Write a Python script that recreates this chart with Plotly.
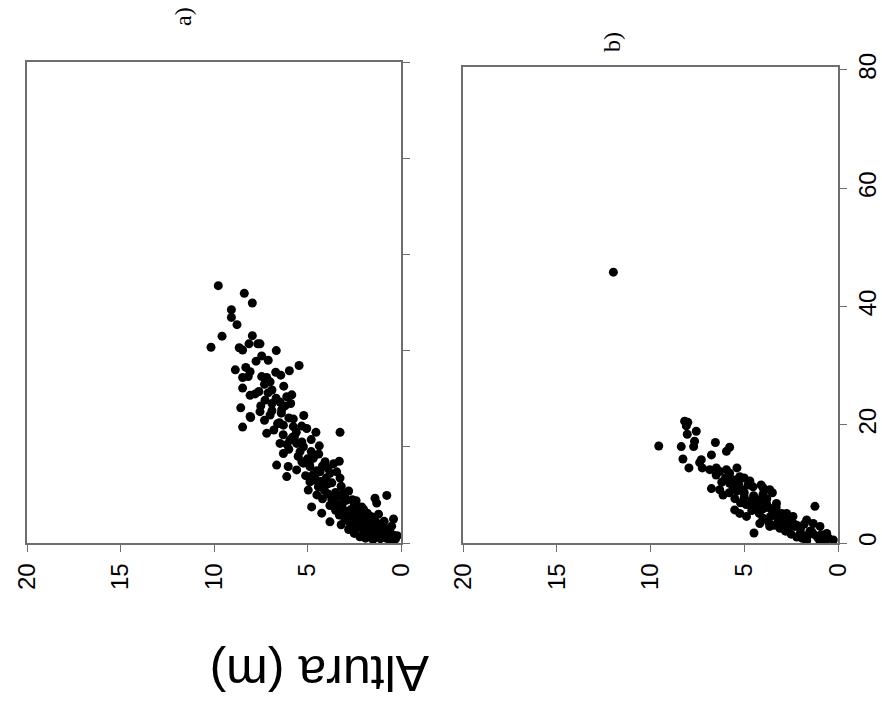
import plotly.graph_objects as go

# Panel a: (Altura, Y)
a_altura = [9.77, 8.38, 7.95, 9.07, 9.07, 8.77, 9.57, 10.16, 7.95, 8.65, 8.47, 8.13, 7.66, 7.54, 6.67,
            7.45, 7.10, 7.75, 5.45, 8.86, 8.07, 8.47, 8.17, 7.45, 7.18, 5.97, 6.43, 8.47, 6.27, 8.07,
            5.84, 6.11, 6.90, 6.68, 7.11, 6.47, 7.27, 8.57, 8.07, 7.54, 7.00, 6.38, 5.76, 8.47, 8.04,
            7.18, 6.29, 5.76, 5.31, 5.04, 4.55, 3.26, 6.47, 5.94, 5.58, 5.22, 4.37, 6.29, 6.65, 6.03,
            6.11, 5.58, 5.22, 4.87, 4.69, 4.06, 4.33, 4.87, 4.69, 4.42, 3.80, 3.44, 3.26, 4.96, 4.78,
            4.24, 3.80, 3.09, 2.90, 2.37, 2.10, 2.28, 0.76, 1.39, 1.30,
            3.5, 3.2, 3.0, 2.8, 2.6, 2.5, 2.4, 2.2, 2.0, 1.9, 1.8, 1.7, 1.6, 1.5, 1.4, 1.3, 1.2, 1.1,
            1.0, 0.9, 0.8, 0.7, 0.6, 0.5, 0.4, 0.3, 0.8, 1.0, 1.3, 1.6, 1.8, 2.1, 2.3, 2.6, 2.9, 3.1,
            3.4, 3.7, 3.9, 4.1, 4.3, 4.5, 4.2, 3.8, 3.5, 3.3, 3.0, 2.7, 2.4, 2.0, 1.7, 1.4, 1.1, 0.6,
            2.2, 2.5, 2.8, 3.2, 1.9, 1.5, 0.5, 0.2, 0.9, 1.2, 0.4,
            5.5, 5.0, 4.8, 5.3, 5.8, 6.0, 4.5, 4.0, 3.7, 4.2, 5.1, 3.9, 6.3, 6.8, 7.3, 6.9, 6.0, 5.6,
            6.5, 7.5, 6.2, 7.8, 7.3, 6.7, 5.2, 4.8, 3.6, 3.3, 5.9, 4.4,
            6.9, 7.6, 8.3, 7.0, 6.4, 5.7, 5.4, 4.9, 4.6, 4.3, 3.1, 2.7, 2.3, 1.9, 1.5, 0.7, 1.0, 1.6,
            2.1, 2.6, 3.4, 3.9, 4.7, 5.3, 6.1, 6.6]
a_y = [53.5, 51.9, 49.9, 48.5, 46.9, 45.4, 43.0, 40.7, 43.1, 40.6, 40.1, 41.4, 41.4, 41.4, 40.0,
       38.9, 38.0, 37.8, 36.9, 36.0, 35.6, 34.4, 34.6, 34.6, 34.4, 35.8, 34.9, 32.2, 32.6, 30.7,
       30.8, 30.4, 31.8, 30.1, 31.2, 29.3, 29.7, 28.1, 26.3, 27.3, 26.6, 27.7, 25.8, 24.1, 26.1,
       22.8, 24.5, 24.2, 24.3, 23.8, 23.0, 23.0, 20.7, 21.4, 20.7, 20.0, 20.2, 18.6, 16.2, 15.9,
       13.8, 15.2, 16.6, 15.9, 17.6, 16.9, 14.8, 12.7, 13.1, 11.7, 14.5, 14.8, 13.5, 11.0, 7.5,
       6.2, 4.4, 10.3, 8.9, 7.5, 7.5, 6.2, 9.9, 9.3, 8.3,
       10.5, 11.8, 9.5, 10.8, 9.0, 7.8, 8.8, 6.5, 7.0, 5.5, 6.2, 4.8, 5.5, 3.9, 4.6, 3.2, 4.0, 2.8,
       3.5, 2.2, 2.9, 1.8, 2.4, 1.2, 1.6, 0.8, 1.0, 1.5, 1.8, 2.5, 3.0, 3.6, 4.2, 5.0, 6.0, 7.0,
       8.0, 9.0, 10.2, 11.0, 12.0, 10.0, 9.2, 7.8, 6.8, 5.8, 4.8, 3.9, 3.0, 2.3, 1.7, 1.2, 0.9, 0.6,
       1.3, 2.0, 2.8, 3.8, 1.0, 0.7, 3.5, 1.5, 4.5, 6.0, 5.0,
       18.0, 17.5, 19.0, 21.0, 22.0, 19.5, 15.0, 13.5, 12.5, 16.0, 14.0, 15.5, 22.5, 23.5, 25.5, 27.5,
       26.0, 23.0, 25.0, 28.5, 28.5, 31.0, 33.0, 35.5, 26.5, 21.5, 16.5, 17.0, 29.0, 18.5,
       29.0, 31.5, 36.5, 33.5, 27.0, 22.0, 19.0, 16.8, 14.0, 12.8, 8.4, 6.9, 5.2, 4.1, 2.9, 1.3, 2.0, 3.4,
       4.6, 6.3, 9.7, 12.3, 14.2, 16.9, 20.5, 24.8]

# Panel b: (Altura, Y)
b_altura = [11.98, 9.56, 8.18, 8.01, 8.09, 8.04, 7.56, 7.65, 7.70, 8.36, 8.27, 7.95, 6.54, 5.78,
            5.95, 7.29, 7.38, 7.24, 6.75, 6.84, 6.49, 6.31, 5.95, 5.78, 5.39, 6.75, 6.31, 6.13, 5.78,
            5.42, 5.24, 4.53, 3.99, 3.64, 5.51, 5.24, 4.88, 4.53, 4.17, 3.81, 3.28, 4.48, 4.17, 3.64,
            3.10, 2.74, 2.39, 1.23, 1.67, 1.32, 0.96, 0.60, 0.25, 2.74, 2.03, 1.67, 0.96,
            5.0, 4.8, 4.5, 4.3, 4.0, 3.8, 3.5, 3.3, 3.0, 2.8, 2.6, 2.4, 2.2, 2.0, 1.8, 1.5, 1.3, 1.1,
            0.8, 0.5, 5.6, 5.3, 5.0, 4.7, 6.0, 6.2, 5.8, 5.5, 5.2, 4.9, 4.6, 4.2, 4.0, 3.7, 3.4, 3.1,
            2.8, 2.5, 2.2, 1.9, 3.9, 3.6, 3.2, 2.9, 2.6, 2.0, 1.6, 1.0, 0.7, 4.4, 5.0, 5.4, 6.5, 4.1, 3.5,
            4.6, 4.3, 3.7, 3.4, 2.9, 2.3, 1.4, 0.9, 5.7, 5.1, 4.0, 3.0]
b_y = [45.8, 16.4, 20.6, 20.4, 19.8, 18.4, 18.9, 17.2, 16.3, 16.3, 14.2, 12.7, 17.0, 16.2,
       15.5, 14.1, 13.6, 12.7, 14.9, 12.4, 12.7, 12.1, 12.4, 11.8, 12.7, 9.2, 9.0, 8.1, 10.1,
       10.7, 11.2, 9.5, 9.3, 9.0, 5.6, 5.0, 4.5, 6.2, 7.3, 6.7, 6.7, 1.7, 3.3, 2.8,
       4.5, 5.0, 3.3, 6.2, 3.9, 3.3, 2.8, 1.6, 0.5, 2.2, 1.1, 0.4, 0.4,
       8.5, 9.8, 8.0, 7.0, 8.2, 7.5, 5.5, 6.0, 5.0, 4.2, 3.8, 4.5, 3.0, 2.5, 3.2, 2.0, 1.5, 1.0,
       1.2, 0.8, 9.5, 10.0, 11.0, 10.5, 11.0, 10.3, 8.5, 7.5, 6.8, 6.5, 5.5, 5.0, 4.2, 3.5, 3.0, 2.5,
       2.0, 1.5, 1.0, 0.8, 6.0, 4.5, 4.0, 3.2, 2.6, 1.8, 1.3, 0.6, 0.4, 6.0, 7.8, 8.8, 11.5, 9.8, 8.5,
       7.2, 6.4, 6.0, 5.2, 4.0, 2.8, 1.9, 1.4, 10.8, 9.0, 5.8, 3.6]

tick_vals_x = [0, 5, 10, 15, 20]
tick_vals_y = [0, 20, 40, 60, 80]

fig = go.Figure()
mk = dict(color="black", size=9, line=dict(width=0))
fig.add_trace(go.Scatter(x=a_altura, y=a_y, mode="markers", marker=mk, xaxis="x", yaxis="y",
                         showlegend=False, hoverinfo="skip"))
fig.add_trace(go.Scatter(x=b_altura, y=b_y, mode="markers", marker=mk, xaxis="x2", yaxis="y2",
                         showlegend=False, hoverinfo="skip"))

axcol = "#6e6e6e"
tickfont = dict(family="Liberation Sans, Arial", size=24, color="black")
xcommon = dict(range=[20, 0], tickvals=tick_vals_x, ticks="outside", ticklen=7, tickcolor=axcol,
               showline=True, linecolor=axcol, linewidth=1.5, mirror=True, showgrid=False,
               zeroline=False, tickangle=-90, tickfont=tickfont, ticklabelstandoff=2,
               automargin=False)
fig.update_layout(
    width=882, height=708,
    margin=dict(l=0, r=0, t=0, b=0, autoexpand=False),
    paper_bgcolor="white", plot_bgcolor="white",
    xaxis=dict(domain=[27/882, 401/882], anchor="y", **xcommon),
    xaxis2=dict(domain=[463/882, 838/882], anchor="y2", **xcommon),
    yaxis=dict(domain=[1-543/708, 1-62/708], anchor="x", range=[0, 100], dtick=20, side="right",
               ticks="outside", ticklen=7, tickcolor=axcol, showticklabels=False, automargin=False,
               showline=True, linecolor=axcol, linewidth=1.5, mirror=True, showgrid=False, zeroline=False),
    yaxis2=dict(domain=[1-543/708, 1-67/708], anchor="x2", range=[0, 80.5], tickvals=tick_vals_y,
                side="right", ticks="outside", ticklen=7, tickcolor=axcol, tickangle=-90,
                tickfont=tickfont, ticklabelstandoff=0, automargin=False,
                showline=True, linecolor=axcol, linewidth=1.5, mirror=True, showgrid=False, zeroline=False),
    annotations=[
        dict(text="Altura (m)", x=320/882, y=1-673/708, xref="paper", yref="paper", showarrow=False,
             xanchor="center", yanchor="middle",
             textangle=180, font=dict(family="Liberation Sans, Arial", size=50, color="black")),
        dict(text="a)", x=183/882, y=1-17/708, xref="paper", yref="paper", showarrow=False,
             xanchor="center", yanchor="middle",
             textangle=-90, font=dict(family="Liberation Serif, Times New Roman", size=24, color="black")),
        dict(text="b)", x=612/882, y=1-42/708, xref="paper", yref="paper", showarrow=False,
             xanchor="center", yanchor="middle",
             textangle=-90, font=dict(family="Liberation Serif, Times New Roman", size=24, color="black")),
    ],
)
fig.write_html("out.html")
